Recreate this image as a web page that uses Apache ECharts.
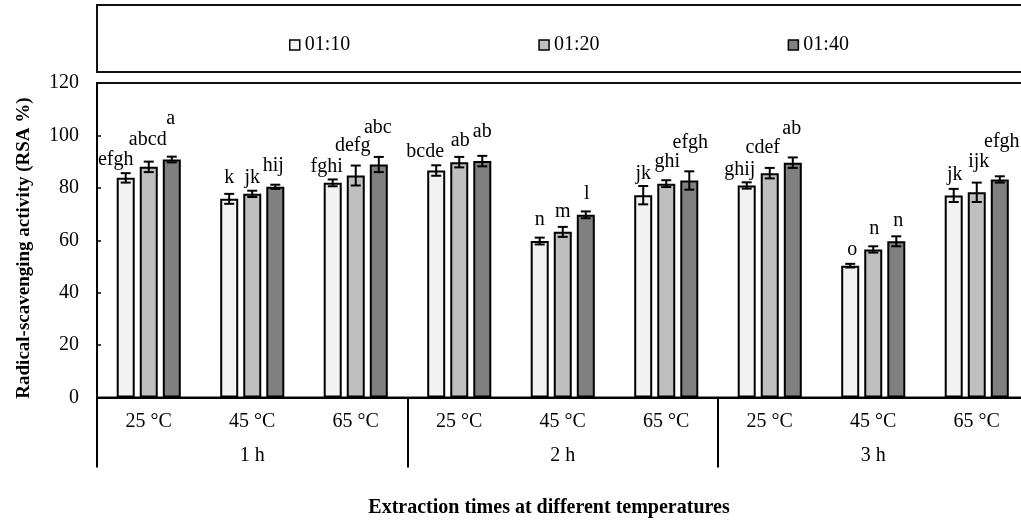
<!DOCTYPE html>
<html>
<head>
<meta charset="utf-8">
<script src="https://cdn.jsdelivr.net/npm/echarts@6/dist/echarts.min.js"></script>
<style>html,body{margin:0;padding:0;background:#fff;overflow:hidden}#c{width:1031px;height:522px}</style>
</head>
<body>
<div id="c"></div>
<script>
const categories = ['25 °C','45 °C','65 °C','25 °C','45 °C','65 °C','25 °C','45 °C','65 °C'];
const groups = ['1 h','2 h','3 h'];
const seriesNames = ['01:10','01:20','01:40'];
const values0110 = [83.8,75.8,81.9,86.6,59.7,77.2,80.9,50.3,77.1];
const values0120 = [88.0,77.7,84.7,89.8,63.2,81.6,85.6,56.5,78.3];
const values0140 = [90.8,80.4,88.9,90.2,69.7,82.8,89.6,59.6,83.2];
const errors0110 = [1.8,1.9,1.3,2.0,1.3,3.5,1.2,0.7,2.5];
const errors0120 = [2.0,1.2,3.8,2.0,1.9,1.3,2.0,1.2,3.7];
const errors0140 = [1.1,0.8,2.9,2.0,1.3,3.5,2.0,1.9,1.2];
const letters0110 = ['efgh','k','fghi','bcde','n','jk','ghij','o','jk'];
const letters0120 = ['abcd','jk','defg','ab','m','ghi','cdef','n','ijk'];
const letters0140 = ['a','hij','abc','ab','l','efgh','ab','n','efgh'];
const yMin = 0, yMax = 120, yStep = 20;
const xTitle = 'Extraction times at different temperatures';
const yTitle = 'Radical-scavenging activity (RSA %)';

// label placement (pixel offsets, styling only)
const labelOffsets = [
  [[-10,-13],[0,-16],[-6,-13],[-11,-14],[0,-18],[0,-12],[-7,-13],[2,-14],[1,-14]],
  [[-1,-22],[0,-13],[-3,-20],[1,-16],[0,-15],[1,-18],[-7,-20],[1,-18],[2,-21]],
  [[-1,-38],[-2,-19],[-1,-29],[0,-24],[1,-18],[1,-29],[-1,-29],[2,-16],[2,-35]]
];
const colors = ['#f2f2f2','#bfbfbf','#808080'];
const FONT = 'Liberation Serif';
const BAR_W = 18, BAR_GAP = 0.28;

const allValues = [values0110, values0120, values0140];
const allErrors = [errors0110, errors0120, errors0140];
const allLetters = [letters0110, letters0120, letters0140];

const chart = echarts.init(document.getElementById('c'), null, {renderer:'canvas'});

const series = [];
seriesNames.forEach((name, k) => {
  series.push({
    name: name, type: 'bar', xAxisIndex: 0, yAxisIndex: 0,
    barWidth: BAR_W, barGap: (BAR_GAP*100)+'%',
    itemStyle: {color: colors[k], borderColor: '#000', borderWidth: 2},
    data: allValues[k], z: 2
  });
});
seriesNames.forEach((name, k) => {
  const shift = (k - 1) * BAR_W * (1 + BAR_GAP);
  series.push({
    type: 'custom', xAxisIndex: 0, yAxisIndex: 0, z: 5,
    encode: {x: 0, y: 1},
    data: allValues[k].map((v, i) => [i, v, allErrors[k][i], allLetters[k][i]]),
    renderItem: function (params, api) {
      const i = api.value(0), v = api.value(1), e = api.value(2);
      const idx = params.dataIndex;
      const top = api.coord([i, v + e]);
      const bot = api.coord([i, v - e]);
      const x = top[0] + shift;
      const cap = 5;
      const ls = {stroke: '#000', lineWidth: 2};
      const off = labelOffsets[k][idx];
      return {
        type: 'group',
        children: [
          {type: 'line', shape: {x1: x, y1: top[1], x2: x, y2: bot[1]}, style: ls},
          {type: 'line', shape: {x1: x - cap, y1: top[1], x2: x + cap, y2: top[1]}, style: ls},
          {type: 'line', shape: {x1: x - cap, y1: bot[1], x2: x + cap, y2: bot[1]}, style: ls},
          {type: 'text', style: {text: allLetters[k][idx], x: x + off[0], y: top[1] + off[1],
            align: 'center', verticalAlign: 'middle', font: '20px "' + FONT + '"', fill: '#000'}}
        ]
      };
    }
  });
});

chart.setOption({
  animation: false,
  backgroundColor: '#fff',
  textStyle: {fontFamily: FONT},
  grid: {left: 97, top: 83, width: 931.5, height: 314.5, show: true, borderColor: '#111', borderWidth: 2, containLabel: false},
  legend: {
    data: seriesNames, left: 284, top: 30, itemWidth: 10, itemHeight: 10, itemGap: 188,
    icon: 'rect', textStyle: {fontSize: 20, fontFamily: FONT, color: '#000'},
    itemStyle: {borderColor: '#000', borderWidth: 1.5}
  },
  xAxis: [
    {type: 'category', data: categories, position: 'bottom', gridIndex: 0,
     axisLine: {show: true, lineStyle: {color: '#000', width: 2}},
     axisTick: {show: false},
     axisLabel: {margin: 14, fontSize: 20, fontFamily: FONT, color: '#000'},
     splitLine: {show: false}},
    {type: 'category', data: groups, position: 'bottom', gridIndex: 0,
     axisLine: {show: false},
     axisTick: {show: true, length: 70, lineStyle: {color: '#000', width: 2}},
     axisLabel: {margin: 48, fontSize: 20, fontFamily: FONT, color: '#000'},
     splitLine: {show: false}}
  ],
  yAxis: {
    type: 'value', min: yMin, max: yMax, interval: yStep,
    axisLine: {show: true, lineStyle: {color: '#000', width: 2}},
    axisTick: {show: true, inside: true, length: 4, lineStyle: {color: '#000', width: 1.5}},
    axisLabel: {margin: 18, fontSize: 20, fontFamily: FONT, color: '#000'},
    splitLine: {show: false}
  },
  graphic: [
    {type: 'rect', shape: {x: 97, y: 5, width: 1000, height: 67}, style: {fill: 'none', stroke: '#111', lineWidth: 2}},
    {type: 'text', x: 24, y: 248, rotation: Math.PI / 2,
     style: {text: yTitle, align: 'center', verticalAlign: 'middle', font: 'bold 19px "' + FONT + '"', fill: '#000'}},
    {type: 'text', x: 549, y: 508,
     style: {text: xTitle, align: 'center', verticalAlign: 'middle', font: 'bold 20px "' + FONT + '"', fill: '#000'}}
  ],
  series: series
});
</script>
</body>
</html>
